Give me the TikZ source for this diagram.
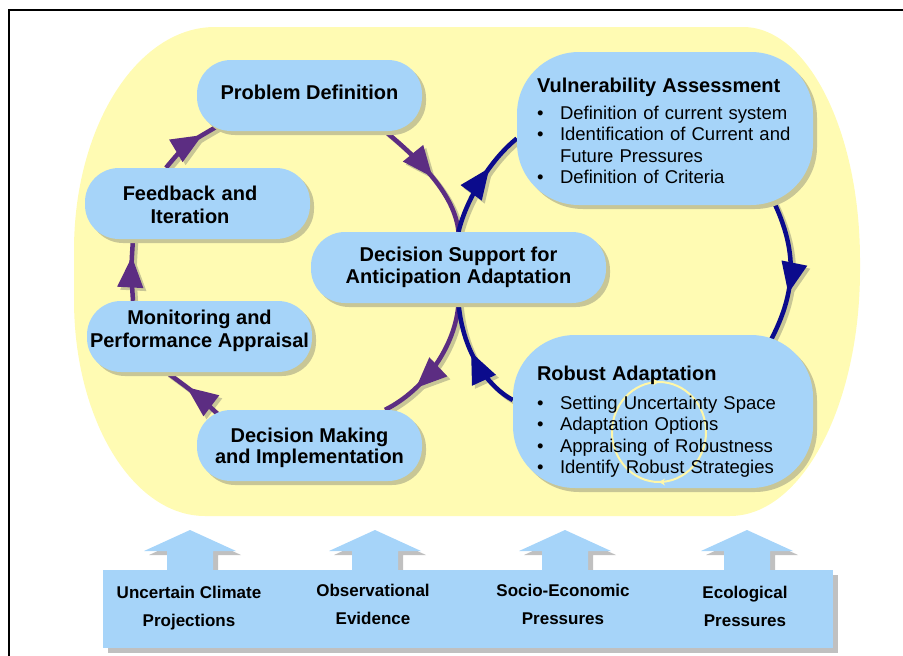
\documentclass[tikz,border=0pt]{standalone}
\usepackage{fontspec}
\setmainfont{Liberation Sans}
\usetikzlibrary{calc,shadows,arrows.meta,decorations.markings}
\pgfdeclarelayer{back}
\pgfdeclarelayer{mid}
\pgfsetlayers{back,mid,main}
\definecolor{yellowbg}{HTML}{FFFBB3}
\definecolor{boxblue}{HTML}{A6D4F9}
\definecolor{shc}{HTML}{C8C696}
\definecolor{grayshc}{HTML}{C0C0C0}
\definecolor{purp}{HTML}{5C2D82}
\definecolor{navy}{HTML}{0B0B8C}
\definecolor{circy}{HTML}{FFF7A8}
\newcommand\topst[1]{\rule{0pt}{#1}}
\newcommand\botst[1]{\rule[-#1]{0pt}{#1}}
\newcommand\bulitem{\makebox[23pt][l]{\textbullet}}
\tikzset{
  box/.style={fill=boxblue, rounded corners=34pt, inner sep=0pt, align=center,
    minimum width=225pt, minimum height=71pt,
    drop shadow={shadow xshift=4pt, shadow yshift=-4pt, fill=shc, opacity=1},
    font=\fontsize{20}{23}\selectfont\bfseries},
  listbox/.style={fill=boxblue, rounded corners=62pt, inner ysep=0pt, align=left,
    minimum height=153pt,
    drop shadow={shadow xshift=4pt, shadow yshift=-4pt, fill=shc, opacity=1},
    font=\fontsize{18.5}{21.3}\selectfont},
  flow/.style={draw, color=#1, line width=4.5pt},
  mk/.style={postaction={decorate, decoration={markings,
      mark=at position #1 with {\arrow{Triangle[length=31pt,width=25pt]}}}}},
  bartext/.style={align=center, inner sep=0pt, font=\fontsize{17}{28}\selectfont\bfseries},
  uparrow/.style={fill=boxblue},
  uparrowshadow/.style={fill=grayshc}
}
\newcommand\drawflows[2]{%
  \draw[flow=#1, mk=0.52] ($(pd.south)+(75.5,0)$) .. controls (420,160) and (455,195) .. (ds.north);
  \draw[flow=#1, mk=0.72] (ds.south) .. controls (456,345) and (425,390) .. ($(dm.north)+(75.5,0)$);
  \draw[flow=#1, mk=0.62] ($(dm.north)+(-92,4)$) .. controls (195,393) .. ($(mon.south)+(-33,0)$);
  \draw[flow=#1, mk=0.72] ($(mon.north)+(-66.5,0)$) .. controls (131,270) .. ($(fb.south)+(-64.5,0)$);
  \draw[flow=#1, mk=0.74] ($(fb.north)+(-31.5,0)$) .. controls (185,145) .. ($(pd.south)+(-92,-5)$);
  \draw[flow=#2, mk=0.64] (ds.north) .. controls (466,200) and (490,160) .. ($(va.west)+(0,10)$);
  \draw[flow=#2, mk=0.66] ($(va.south)+(108,-5)$) .. controls (797,250) and (797,290) .. ($(ra.north)+(108,5)$);
  \draw[flow=#2, mk=0.56] ($(ra.west)+(0,-11.5)$) .. controls (490,388) and (463,355) .. (ds.south);
}
\begin{document}
\begin{tikzpicture}[x=1pt, y=-1pt]
\useasboundingbox (0,0) rectangle (903,656);
% frame
\draw[line width=2pt] (9,670) -- (9,10.3) -- (915,10.3);
% yellow background
\begin{pgfonlayer}{back}
\fill[yellowbg] (74,250) .. controls (74,126.8) and (137.1,27) .. (215,27) -- (743,27)
  .. controls (807.6,27) and (860,131.3) .. (860,260) -- (860,270)
  .. controls (860,405.9) and (801.8,516) .. (730,516) -- (205,516)
  .. controls (132.6,516) and (74,419.3) .. (74,300) -- cycle;
\end{pgfonlayer}
% boxes
\node[box] (pd) at (309.5,95.5) {\topst{15.4pt}Problem Definition\botst{8pt}};
\node[box, text width=225pt] (fb) at (197.5,203.5) {\topst{22.4pt}Feedback and\rule{15pt}{0pt}\\Iteration\rule{15pt}{0pt}\botst{6pt}};
\node[box] (mon) at (199.5,336.5) {\topst{15.4pt}Monitoring and\\Performance Appraisal\botst{17pt}};
\node[box, font=\fontsize{20}{21}\selectfont\bfseries] (dm) at (309.5,445.5) {\topst{20.4pt}Decision Making\\and Implementation\botst{6pt}};
\node[box, minimum width=295pt, font=\fontsize{20}{22}\selectfont\bfseries] (ds) at (458.5,267.5) {\topst{16.4pt}Decision Support for\\Anticipation Adaptation\botst{7pt}};
\node[listbox, inner xsep=20pt, text width=256pt] (va) at (665,128.5) {%
  {\fontsize{20}{21.3}\selectfont\bfseries\topst{23.5pt}Vulnerability Assessment}\\[6.3pt]
  \bulitem Definition of current system\\
  \bulitem Identification of Current and\\
  \hspace*{23pt}Future Pressures\\
  \bulitem Definition of Criteria\botst{5pt}};
\node[listbox, inner xsep=24pt, text width=252pt,
  path picture={\draw[circy, line width=2pt, postaction={decorate, decoration={markings,
      mark=at position 0.25 with {\arrow{Stealth[length=6pt,width=7pt]}},
      mark=at position 0.75 with {\arrow{Stealth[length=6pt,width=7pt]}}}}]
    ($(path picture bounding box.center)+(-4,20.5)$) circle[x radius=47, y radius=50];}] (ra) at (663,411.5) {%
  {\fontsize{20}{21.3}\selectfont\bfseries\topst{35.5pt}Robust Adaptation}\\[8.3pt]
  \bulitem Setting Uncertainty Space\\
  \bulitem Adaptation Options\\
  \bulitem Appraising of Robustness\\
  \bulitem Identify Robust Strategies\botst{5pt}};
% connectors
\begin{pgfonlayer}{mid}
\begin{scope}[transform canvas={xshift=3pt,yshift=-3pt}]
\drawflows{shc}{shc}
\end{scope}
\drawflows{purp}{navy}
\end{pgfonlayer}
% bottom block arrows
\foreach \cx in {190,375,565,747} {
  \fill[uparrowshadow] (\cx+5,534) -- (\cx+51,555) -- (\cx+28,555) -- (\cx+28,579) -- (\cx-18,579) -- (\cx-18,555) -- (\cx-41,555) -- cycle;
  \fill[uparrow] (\cx,530) -- (\cx+46,551) -- (\cx+23,551) -- (\cx+23,575) -- (\cx-23,575) -- (\cx-23,551) -- (\cx-46,551) -- cycle;
}
\node[fill=boxblue, minimum width=730pt, minimum height=78pt, inner sep=0pt,
  drop shadow={shadow xshift=5pt, shadow yshift=-5pt, fill=grayshc, opacity=1}] (bar) at (468,609) {};
\node[bartext] (t1) at (189,607) {\topst{14pt}Uncertain Climate\\Projections\botst{4pt}};
\node[bartext] (t2) at (373,605) {\topst{14pt}Observational\\Evidence\botst{4pt}};
\node[bartext] (t3) at (563,605) {\topst{14pt}Socio-Economic\\Pressures\botst{4pt}};
\node[bartext] (t4) at (745,607) {\topst{14pt}Ecological\\Pressures\botst{4pt}};
\end{tikzpicture}
\end{document}
